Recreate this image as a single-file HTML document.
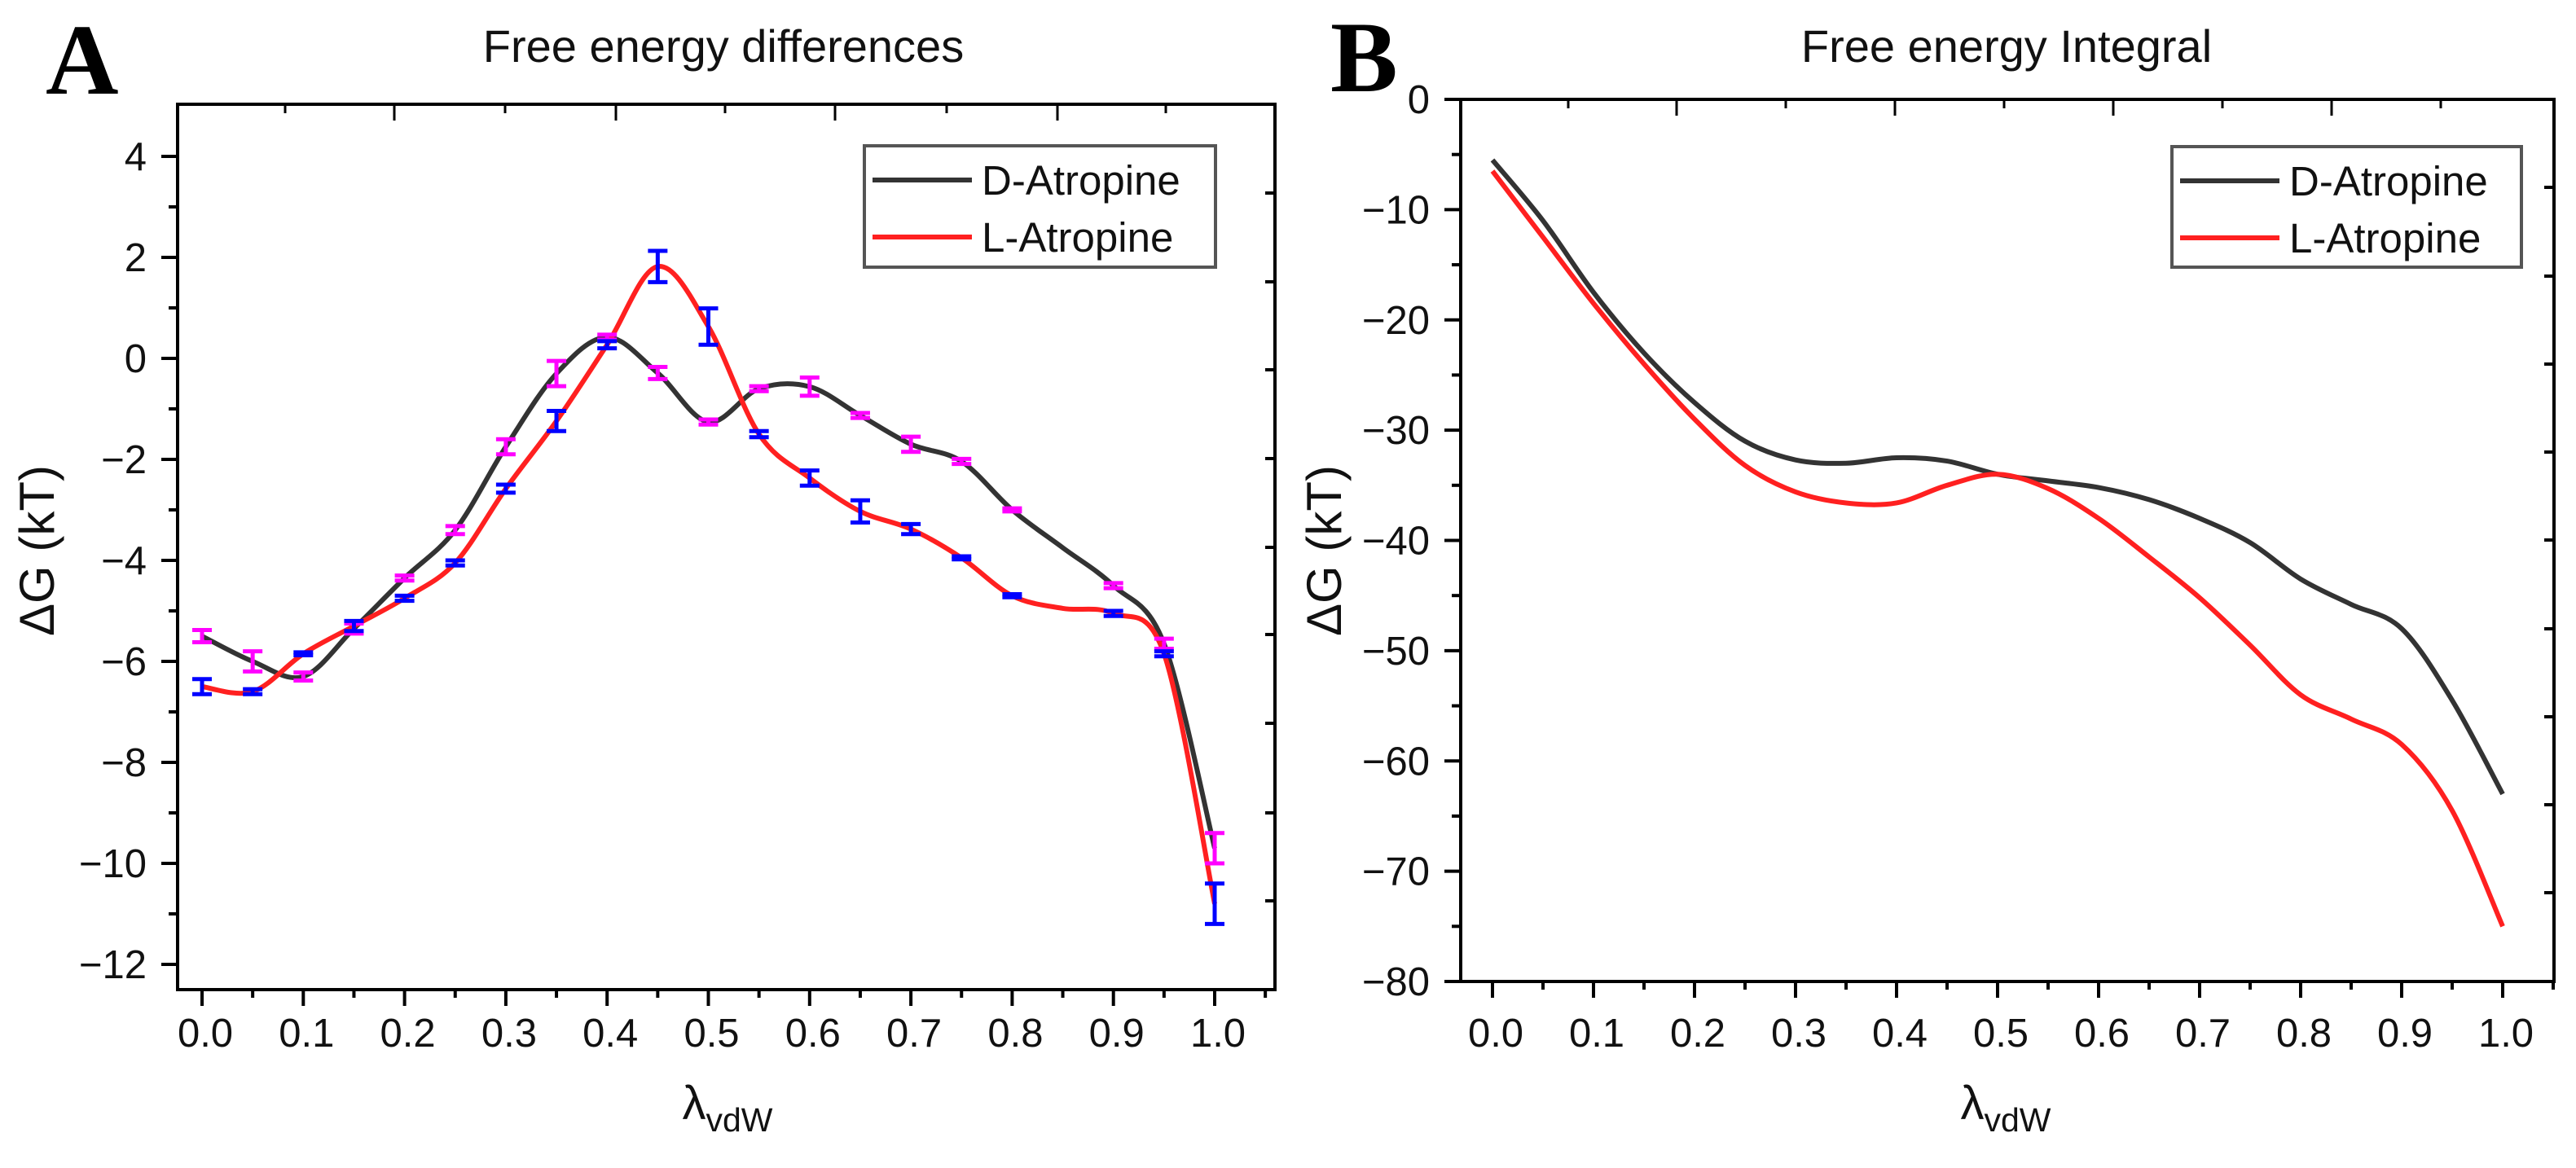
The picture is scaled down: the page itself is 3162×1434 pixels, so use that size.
<!DOCTYPE html>
<html><head><meta charset="utf-8">
<style>
html,body{margin:0;padding:0;background:#fff;}
svg{display:block;font-family:"Liberation Sans",Arial,sans-serif;}
</style></head>
<body>
<svg id="fig" width="3162" height="1434" viewBox="0 0 3162 1434" xmlns="http://www.w3.org/2000/svg">
<rect x="0" y="0" width="3162" height="1434" fill="#fff"/>
<text x="56" y="115" font-family="Liberation Serif,serif" font-weight="bold" font-size="124" fill="#000">A</text>
<text x="1633" y="112" font-family="Liberation Serif,serif" font-weight="bold" font-size="124" fill="#000">B</text>
<text x="888" y="76" text-anchor="middle" font-size="56" fill="#111">Free energy differences</text>
<text x="2463" y="76" text-anchor="middle" font-size="56" fill="#111">Free energy Integral</text>
<g id="layer"></g>
</svg>
<script>
// ---------- data ----------
const lambdas = [0,0.05,0.1,0.15,0.2,0.25,0.3,0.35,0.4,0.45,0.5,0.55,0.6,0.65,0.7,0.75,0.8,0.85,0.9,0.95,1.0];
const diffD = [-5.5,-6.0,-6.3,-5.35,-4.35,-3.4,-1.75,-0.3,0.42,-0.29,-1.26,-0.6,-0.56,-1.13,-1.7,-2.04,-3.0,-3.75,-4.5,-5.65,-9.7];
const diffL = [-6.5,-6.6,-5.85,-5.3,-4.75,-4.05,-2.58,-1.24,0.27,1.82,0.63,-1.5,-2.37,-3.03,-3.38,-3.95,-4.7,-4.95,-5.05,-5.85,-10.8];
const errD = [0.12,0.2,0.08,0.1,0.05,0.08,0.15,0.25,0.05,0.12,0.05,0.05,0.18,0.05,0.15,0.05,0.03,null,0.05,0.1,0.3];
const errL = [0.15,0.05,0.03,0.1,0.05,0.05,0.08,0.2,0.07,0.31,0.36,0.06,0.15,0.22,0.1,0.03,0.03,null,0.05,0.05,0.4];
const intD = [-5.5,-11,-17.5,-23,-27.5,-31,-32.7,-33,-32.5,-32.8,-34,-34.6,-35.2,-36.3,-38,-40.2,-43.5,-45.8,-48,-54.5,-63];
const intL = [-6.5,-12.5,-18.5,-24,-29,-33.2,-35.6,-36.6,-36.6,-35,-34,-35.3,-38,-41.5,-45.2,-49.5,-54,-56.2,-58.5,-64.5,-75];
const xTickLabels = ["0.0","0.1","0.2","0.3","0.4","0.5","0.6","0.7","0.8","0.9","1.0"];
const yTicksA = [4,2,0,-2,-4,-6,-8,-10,-12];
const yTicksB = [0,-10,-20,-30,-40,-50,-60,-70,-80];

const NS = "http://www.w3.org/2000/svg";
const layer = document.getElementById('layer');
function mk(tag, attrs, parent){
  const e = document.createElementNS(NS, tag);
  for (const k in attrs) e.setAttribute(k, attrs[k]);
  (parent||layer).appendChild(e);
  return e;
}
function scaleX(x0px, x1px){ return v => x0px + v*(x1px-x0px); }
function scaleY(v0, p0, v1, p1){ return v => p0 + (v-v0)*(p1-p0)/(v1-v0); }
function spline(xs, ys, sx, sy){
  const P = xs.map((x,i)=>[sx(x), sy(ys[i])]);
  let d = `M${P[0][0]},${P[0][1]}`;
  for (let i=0;i<P.length-1;i++){
    const p0=P[i-1]||P[i], p1=P[i], p2=P[i+1], p3=P[i+2]||P[i+1];
    const c1=[p1[0]+(p2[0]-p0[0])/6, p1[1]+(p2[1]-p0[1])/6];
    const c2=[p2[0]-(p3[0]-p1[0])/6, p2[1]-(p3[1]-p1[1])/6];
    d += ` C${c1[0]},${c1[1]} ${c2[0]},${c2[1]} ${p2[0]},${p2[1]}`;
  }
  return d;
}

function panel(cfg){
  const g = mk('g', {});
  
  
  const sx = cfg.sx, sy = cfg.sy;
  for (let i=0;i<=21;i++){
    const v = i*0.05; const x = sx(v); const major = i%2===0;
    const t = mk('line',{x1:x,y1:cfg.bottom,x2:x,y2:cfg.bottom+(major?20:10),stroke:'#000','stroke-width':4},g);
    
    
    if (major && i/2 < xTickLabels.length){
      const lb = mk('text',{x:x+4,y:1285,'text-anchor':'middle','font-size':49,fill:'#111'},g);
      lb.textContent = xTickLabels[i/2];
      
      
    }
  }
  cfg.yticks.forEach((v,i)=>{
    const y = sy(v);
    const t = mk('line',{x1:cfg.left-20,y1:y,x2:cfg.left,y2:y,stroke:'#000','stroke-width':4},g);
    
    
    const lb = mk('text',{x:cfg.labelEnd,y:y+17,'text-anchor':'end','font-size':49,fill:'#111'},g);
    lb.textContent = (v<0?'\u2212'+(-v):String(v));
    
    
    if (i < cfg.yticks.length-1){
      const ym = sy(v - cfg.ystep/2);
      const m = mk('line',{x1:cfg.left-11,y1:ym,x2:cfg.left,y2:ym,stroke:'#000','stroke-width':4},g);
      
      
    }
  });
  cfg.topTicks.forEach((x,i)=>{
    const t = mk('line',{x1:x,y1:cfg.top,x2:x,y2:cfg.top+(i%2?20:11),stroke:'#000','stroke-width':3},g);
    
    
  });
  cfg.rightTicks.forEach(y=>{
    const t = mk('line',{x1:cfg.right-12,y1:y,x2:cfg.right,y2:y,stroke:'#000','stroke-width':4},g);
    
    
  });
  cfg.series.forEach(s=>{
    const p = mk('path',{d:spline(lambdas,s.vals,sx,sy),fill:'none',stroke:s.color,'stroke-width':6,'stroke-linejoin':'round'},g);
    
    
  });
  cfg.errs.forEach(e=>{
    e.vals.forEach((v,i)=>{
      const er = e.err[i]; if (er===null) return;
      const x = sx(lambdas[i]), ya = sy(v+er), yb = sy(v-er);
      const eg = mk('g',{stroke:e.color,'stroke-width':5},g);
      
      
      mk('line',{x1:x,y1:ya,x2:x,y2:yb},eg);
      mk('line',{x1:x-12,y1:ya,x2:x+12,y2:ya},eg);
      mk('line',{x1:x-12,y1:yb,x2:x+12,y2:yb},eg);
    });
  });
  const f = mk('rect',{x:cfg.left,y:cfg.top,width:cfg.right-cfg.left,height:cfg.bottom-cfg.top,fill:'none',stroke:'#000','stroke-width':4},g);
  
  
  const L = cfg.legend;
  const lg = mk('g',{},g);
  
  
  mk('rect',{x:L.x,y:L.y,width:L.w,height:L.h,fill:'#fff',stroke:'#555','stroke-width':4},lg);
  [['D-Atropine','#333'],['L-Atropine','#ff2020']].forEach((it,k)=>{
    const yy = L.y+42+k*70;
    const e = mk('g',{},lg);
    
    
    mk('line',{x1:L.x+10,y1:yy,x2:L.x+132,y2:yy,stroke:it[1],'stroke-width':6},e);
    const t = mk('text',{x:L.x+144,y:yy+18,'font-size':51,fill:'#111'},e);
    t.textContent = it[0];
  });
  const yl = mk('text',{x:0,y:0,'text-anchor':'middle','font-size':60,fill:'#111',transform:`translate(${cfg.ylabelX},${cfg.ylabelY}) rotate(-90)`},g);
  yl.textContent = '\u0394G (kT)';
  
  
  const xl = mk('text',{x:cfg.xlabelX,y:1374,'text-anchor':'middle','font-size':58,fill:'#111'},g);
  
  
  const t1 = mk('tspan',{},xl); t1.textContent='\u03bb';
  const t2 = mk('tspan',{'font-size':41,dy:15}, xl); t2.textContent='vdW';
}

const sxA = scaleX(248,1491), syA = scaleY(4,192,-12,1184);
panel({name:'panel-a-chart', sx:sxA, sy:syA, left:218, right:1565, top:128, bottom:1215,
  yticks:yTicksA, ystep:2, labelEnd:180,
  topTicks:[350,484,620,756,890,1025,1162,1298,1431],
  rightTicks:[237,346,454,563,672,779,888,998,1106],
  series:[{name:'d-atropine-line',vals:diffD,color:'#333'},{name:'l-atropine-line',vals:diffL,color:'#ff2020'}],
  errs:[{name:'d-atropine-error-bar',vals:diffD,err:errD,color:'#ff00ff'},{name:'l-atropine-error-bar',vals:diffL,err:errL,color:'#0000ff'}],
  legend:{x:1061,y:179,w:431,h:149}, ylabelX:66, ylabelY:676, xlabelX:893});

const sxB = scaleX(1832,3072), syB = scaleY(0,122,-80,1205);
panel({name:'panel-b-chart', sx:sxB, sy:syB, left:1793, right:3135, top:122, bottom:1205,
  yticks:yTicksB, ystep:10, labelEnd:1755,
  topTicks:[1925,2058,2192,2326,2460,2594,2728,2862,2996],
  rightTicks:[230,339,447,555,663,772,880,988,1096],
  series:[{name:'d-atropine-line',vals:intD,color:'#333'},{name:'l-atropine-line',vals:intL,color:'#ff2020'}],
  errs:[],
  legend:{x:2666,y:180,w:429,h:148}, ylabelX:1646, ylabelY:676, xlabelX:2462});
</script>
</body></html>
